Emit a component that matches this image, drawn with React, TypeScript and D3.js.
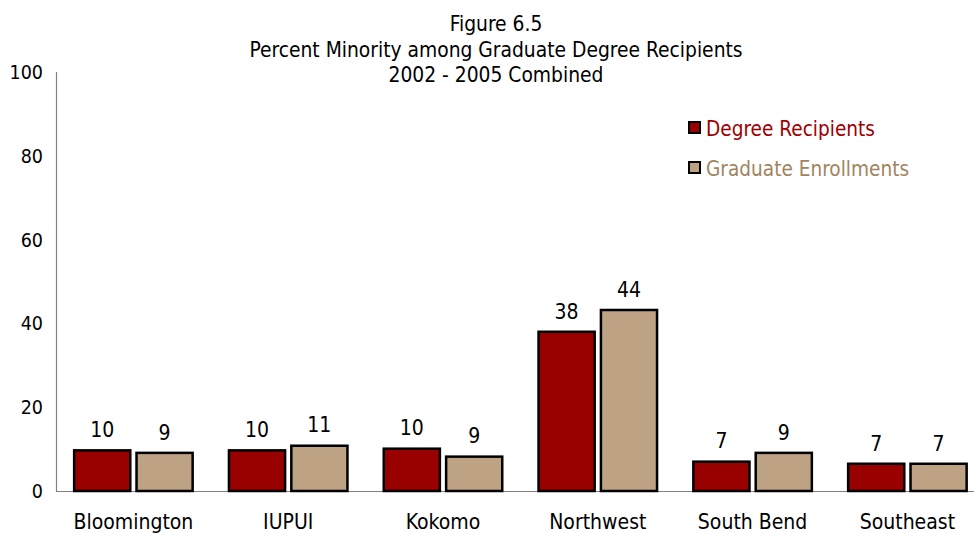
import React from "react";
import * as d3 from "d3";

const campuses = ["Bloomington", "IUPUI", "Kokomo", "Northwest", "South Bend", "Southeast"];
const seriesNames = ["Degree Recipients", "Graduate Enrollments"];
const degreeRecipients = [10.0, 10.0, 10.4, 38.3, 7.3, 6.8];
const graduateEnrollments = [9.4, 11.1, 8.5, 43.5, 9.4, 6.8];
const yTicks = [0, 20, 40, 60, 80, 100];
const titleLines = [
  "Figure 6.5",
  "Percent Minority among Graduate Degree Recipients",
  "2002 - 2005 Combined",
];

const fills = ["#990000", "#bda383"];
const textColors = ["#a00000", "#a08560"];
const font = "'DejaVu Sans Condensed', 'DejaVu Sans', sans-serif";

const App = () => {
  const width = 974;
  const height = 533;
  const left = 56;
  const step = 154.8;

  const x = d3
    .scaleBand()
    .domain(campuses)
    .range([left, left + step * campuses.length]);
  const groupWidth = 121;
  const x1 = d3.scaleBand().domain(seriesNames).range([0, groupWidth]).paddingInner(0.06);
  const y = d3.scaleLinear().domain([0, 100]).range([491, 72]);

  const values = [degreeRecipients, graduateEnrollments];
  const sw = 2.5;

  return (
    <svg
      width={width}
      height={height}
      style={{ position: "absolute", left: 0, top: 0, background: "#fff" }}
      fontFamily={font}
    >
      {/* title */}
      {titleLines.map((t, i) => (
        <text key={t} x={496} y={31 + i * 25.5} textAnchor="middle" fontSize={20.8} fill="#000">
          {t}
        </text>
      ))}

      {/* axes */}
      <line x1={left + 0.5} x2={left + 0.5} y1={y(100)} y2={y(0)} stroke="#808080" strokeWidth={1.2} />
      <line x1={left} x2={width} y1={y(0) + 0.5} y2={y(0) + 0.5} stroke="#808080" strokeWidth={1.2} />

      {yTicks.map((t) => (
        <text key={t} x={43} y={y(t)} dy="0.36em" textAnchor="end" fontSize={19.5} fill="#000">
          {t}
        </text>
      ))}

      {/* bars */}
      {campuses.map((c, ci) => {
        const gx = (x(c) as number) + x.bandwidth() / 2 - groupWidth / 2;
        return (
          <g key={c} transform={`translate(${gx},0)`}>
            {seriesNames.map((s, si) => {
              const v = values[si][ci];
              const bx = x1(s) as number;
              return (
                <g key={s}>
                  <rect
                    x={bx + sw / 2}
                    y={y(v) + sw / 2}
                    width={x1.bandwidth() - sw}
                    height={y(0) - y(v) - sw / 2}
                    fill={fills[si]}
                    stroke="#000"
                    strokeWidth={sw}
                  />
                  <text
                    x={bx + x1.bandwidth() / 2}
                    y={y(v) - 12}
                    textAnchor="middle"
                    fontSize={21}
                    fill="#000"
                  >
                    {Math.round(v)}
                  </text>
                </g>
              );
            })}
            <text x={groupWidth / 2} y={529} textAnchor="middle" fontSize={21} fill="#000">
              {c}
            </text>
          </g>
        );
      })}

      {/* legend */}
      {seriesNames.map((s, i) => (
        <g key={s} transform={`translate(688,${121 + i * 40})`}>
          <rect x={1} y={1} width={11} height={11} fill={fills[i]} stroke="#000" strokeWidth={2} />
          <text x={18} y={15} fontSize={20.6} fill={textColors[i]}>
            {s}
          </text>
        </g>
      ))}
    </svg>
  );
};

export default App;
